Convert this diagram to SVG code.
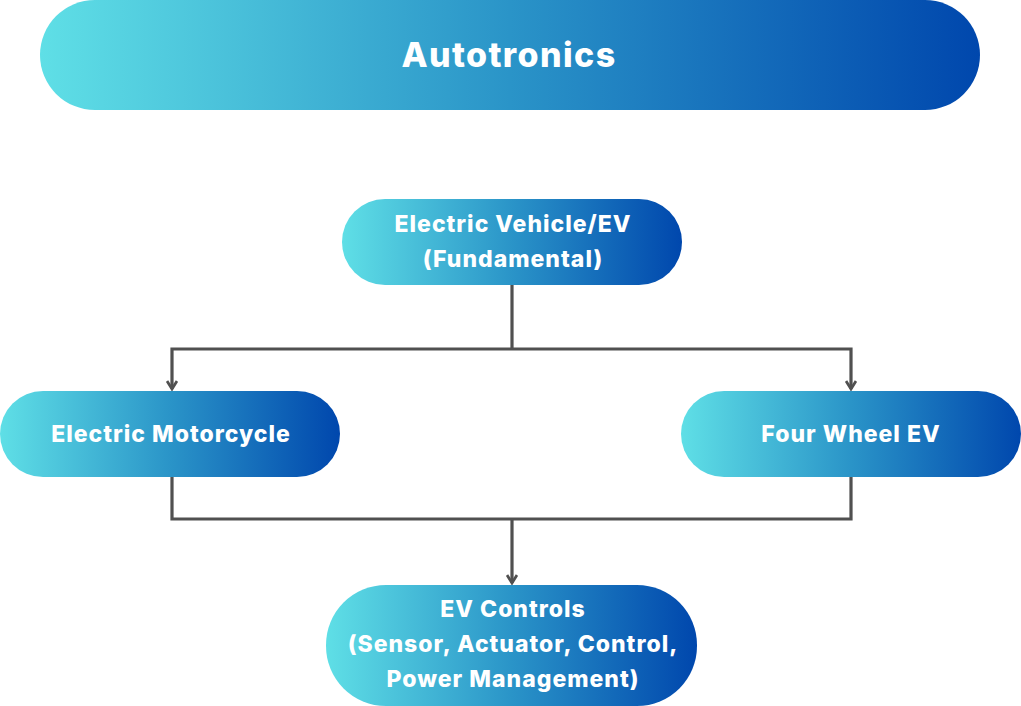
<svg xmlns="http://www.w3.org/2000/svg" width="1021" height="706" viewBox="0 0 1021 706">
<defs>
<linearGradient id="g" x1="0" y1="0" x2="1" y2="0">
<stop offset="0" stop-color="#5fdfe6"/>
<stop offset="0.5" stop-color="#2a94c8"/>
<stop offset="1" stop-color="#0047ad"/>
</linearGradient>
<marker id="arr" viewBox="0 0 12 12" refX="10" refY="6" markerWidth="12" markerHeight="12" markerUnits="userSpaceOnUse" orient="auto">
<path d="M2,1 L10,6 L2,11" fill="none" stroke="#505050" stroke-width="2.8"/>
</marker>
<style>
.node{fill:url(#g);}
.t{font-family:Inter,"Liberation Sans",sans-serif;font-weight:800;fill:#ffffff;text-anchor:middle;font-size:23px;letter-spacing:1px;}
.h{font-size:34px;letter-spacing:1.4px;}
.c{fill:none;stroke:#505050;stroke-width:3.2;}
</style>
</defs>
<g id="title">
<rect class="node" x="40" y="0" width="940" height="110" rx="55"/>
<text class="t h" x="509" y="67">Autotronics</text>
</g>
<g id="ev">
<rect class="node" x="342" y="199" width="340" height="86" rx="43"/>
<text class="t" x="513" y="232">Electric Vehicle/EV</text>
<text class="t" x="513" y="267">(Fundamental)</text>
</g>
<g id="moto">
<rect class="node" x="0" y="391" width="340" height="86" rx="43"/>
<text class="t" x="171" y="442">Electric Motorcycle</text>
</g>
<g id="four">
<rect class="node" x="681" y="391" width="340" height="86" rx="43"/>
<text class="t" x="851" y="442">Four Wheel EV</text>
</g>
<g id="controls">
<rect class="node" x="326" y="585" width="371" height="121" rx="60"/>
<text class="t" x="513" y="617">EV Controls</text>
<text class="t" x="513" y="652">(Sensor, Actuator, Control,</text>
<text class="t" x="513" y="687">Power Management)</text>
</g>
<g id="connectors">
<path class="c" d="M512,285 V349"/>
<path class="c" d="M512,349 H172 V389" marker-end="url(#arr)"/>
<path class="c" d="M512,349 H851 V389" marker-end="url(#arr)"/>
<path class="c" d="M172,477 V519 H851 V477"/>
<path class="c" d="M512,519 V583" marker-end="url(#arr)"/>
</g>
</svg>
